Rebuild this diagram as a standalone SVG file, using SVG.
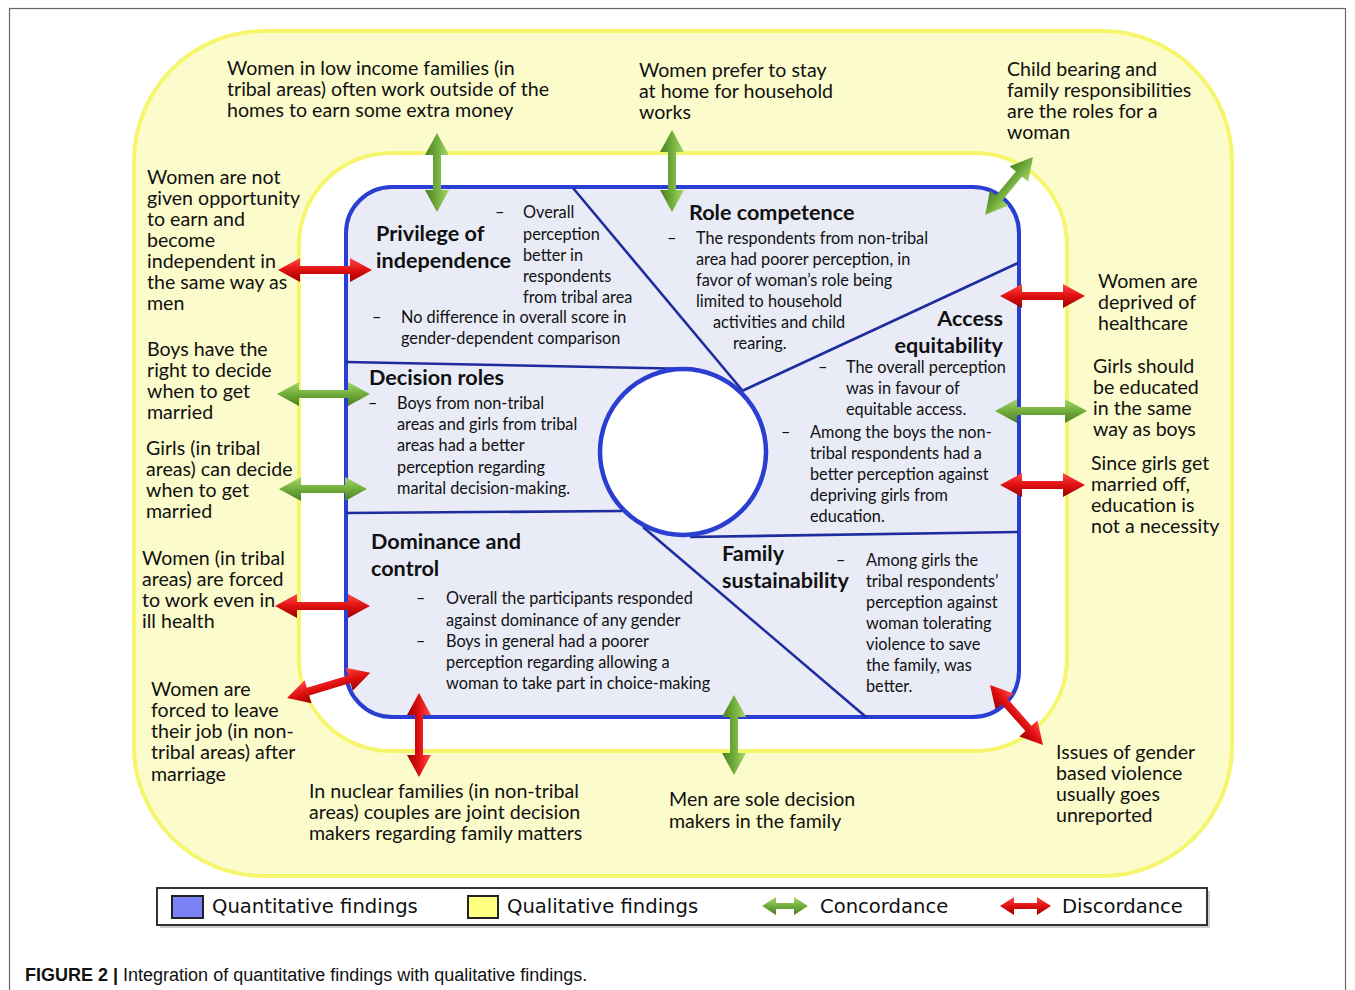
<svg xmlns="http://www.w3.org/2000/svg" width="1355" height="990" viewBox="0 0 1355 990">
<defs>
<linearGradient id="gG" x1="0" y1="0" x2="0" y2="1">
<stop offset="0" stop-color="#a6d86a"/><stop offset="0.5" stop-color="#72ad3c"/><stop offset="1" stop-color="#4a7d22"/>
</linearGradient>
<linearGradient id="gR" x1="0" y1="0" x2="0" y2="1">
<stop offset="0" stop-color="#ff4a4a"/><stop offset="0.5" stop-color="#e01010"/><stop offset="1" stop-color="#9a0000"/>
</linearGradient>
<style>
.t{font-family:Lato,"Open Sans",sans-serif;font-size:19.6px;fill:#111}
.b{font-family:Lato,"Open Sans",sans-serif;font-size:16.3px;fill:#111}
.h{font-family:Lato,"Open Sans",sans-serif;font-size:21.6px;font-weight:bold;fill:#111}
.lg{font-family:"DejaVu Sans",Verdana,sans-serif;font-size:19.6px;fill:#111}
.sep{stroke:#1f2c9e;stroke-width:2.6;fill:none}
.ga{fill:url(#gG)}
.ra{fill:url(#gR)}
</style>
</defs>
<rect x="9.5" y="8.5" width="1336" height="1000" fill="#fff" stroke="#666" stroke-width="1.2"/>
<g id="qualitative-frame">
<rect x="134" y="31" width="1098" height="845" rx="130" ry="130" fill="#fbfbcb" stroke="#f6f66e" stroke-width="4"/>
<rect x="299" y="153" width="768" height="598" rx="92" ry="92" fill="#fff" stroke="#f6f66e" stroke-width="4"/>
</g>
<g id="quantitative-box">
<rect x="346" y="187" width="673" height="530" rx="46" ry="46" fill="#e9ebf7" stroke="#2b3ed2" stroke-width="4"/>
</g>
<g id="separators">
<line class="sep" x1="573" y1="188" x2="742" y2="390"/>
<line class="sep" x1="346" y1="362" x2="695" y2="369"/>
<line class="sep" x1="742" y1="391" x2="1018" y2="263"/>
<line class="sep" x1="346" y1="513" x2="622" y2="511"/>
<line class="sep" x1="690" y1="537" x2="1018" y2="532"/>
<line class="sep" x1="643" y1="527" x2="866" y2="717"/>
</g>
<g id="center-circle">
<circle cx="683" cy="452" r="83" fill="#fff" stroke="#2b3ed2" stroke-width="4.5"/>
</g>
<g id="privilege-of-independence">
<text class="h"><tspan x="376" y="241">Privilege of</tspan><tspan x="376" y="268">independence</tspan></text>
<text class="b"><tspan x="495" y="218">–</tspan><tspan x="523" y="218">Overall</tspan><tspan x="523" y="240">perception</tspan><tspan x="523" y="261">better in</tspan><tspan x="523" y="282">respondents</tspan><tspan x="523" y="303">from tribal area</tspan></text>
<text class="b"><tspan x="372" y="323">–</tspan><tspan x="401" y="323">No difference in overall score in</tspan><tspan x="401" y="344">gender-dependent comparison</tspan></text>
</g>
<g id="role-competence">
<text class="h" x="689" y="220">Role competence</text>
<text class="b"><tspan x="667" y="244">–</tspan><tspan x="696" y="244">The respondents from non-tribal</tspan><tspan x="696" y="265">area had poorer perception, in</tspan><tspan x="696" y="286">favor of woman’s role being</tspan><tspan x="696" y="307">limited to household</tspan><tspan x="713" y="328">activities and child</tspan><tspan x="733" y="349">rearing.</tspan></text>
</g>
<g id="access-equitability">
<text class="h" text-anchor="end"><tspan x="1003" y="326">Access</tspan><tspan x="1003" y="353">equitability</tspan></text>
<text class="b"><tspan x="818" y="373">–</tspan><tspan x="846" y="373">The overall perception</tspan><tspan x="846" y="394">was in favour of</tspan><tspan x="846" y="415">equitable access.</tspan></text>
<text class="b"><tspan x="781" y="438">–</tspan><tspan x="810" y="438">Among the boys the non-</tspan><tspan x="810" y="459">tribal respondents had a</tspan><tspan x="810" y="480">better perception against</tspan><tspan x="810" y="501">depriving girls from</tspan><tspan x="810" y="522">education.</tspan></text>
</g>
<g id="decision-roles">
<text class="h" x="369" y="385">Decision roles</text>
<text class="b"><tspan x="368" y="409">–</tspan><tspan x="397" y="409">Boys from non-tribal</tspan><tspan x="397" y="430">areas and girls from tribal</tspan><tspan x="397" y="451">areas had a better</tspan><tspan x="397" y="473">perception regarding</tspan><tspan x="397" y="494">marital decision-making.</tspan></text>
</g>
<g id="dominance-and-control">
<text class="h"><tspan x="371" y="549">Dominance and</tspan><tspan x="371" y="576">control</tspan></text>
<text class="b"><tspan x="416" y="604">–</tspan><tspan x="446" y="604">Overall the participants responded</tspan><tspan x="446" y="626">against dominance of any gender</tspan><tspan x="416" y="647">–</tspan><tspan x="446" y="647">Boys in general had a poorer</tspan><tspan x="446" y="668">perception regarding allowing a</tspan><tspan x="446" y="689">woman to take part in choice-making</tspan></text>
</g>
<g id="family-sustainability">
<text class="h"><tspan x="722" y="561">Family</tspan><tspan x="722" y="588">sustainability</tspan></text>
<text class="b"><tspan x="836" y="566">–</tspan><tspan x="866" y="566">Among girls the</tspan><tspan x="866" y="587">tribal respondents’</tspan><tspan x="866" y="608">perception against</tspan><tspan x="866" y="629">woman tolerating</tspan><tspan x="866" y="650">violence to save</tspan><tspan x="866" y="671">the family, was</tspan><tspan x="866" y="692">better.</tspan></text>
</g>
<g id="q-low-income">
<text class="t"><tspan x="227" y="75">Women in low income families (in</tspan><tspan x="227" y="96">tribal areas) often work outside of the</tspan><tspan x="227" y="117">homes to earn some extra money</tspan></text>
</g>
<g id="q-stay-home">
<text class="t"><tspan x="639" y="77">Women prefer to stay</tspan><tspan x="639" y="98">at home for household</tspan><tspan x="639" y="119">works</tspan></text>
</g>
<g id="q-child-bearing">
<text class="t"><tspan x="1007" y="76">Child bearing and</tspan><tspan x="1007" y="97">family responsibilities</tspan><tspan x="1007" y="118">are the roles for a</tspan><tspan x="1007" y="139">woman</tspan></text>
</g>
<g id="q-not-given-opportunity">
<text class="t"><tspan x="147" y="184">Women are not</tspan><tspan x="147" y="205">given opportunity</tspan><tspan x="147" y="226">to earn and</tspan><tspan x="147" y="247">become</tspan><tspan x="147" y="268">independent in</tspan><tspan x="147" y="289">the same way as</tspan><tspan x="147" y="310">men</tspan></text>
</g>
<g id="q-healthcare">
<text class="t"><tspan x="1098" y="288">Women are</tspan><tspan x="1098" y="309">deprived of</tspan><tspan x="1098" y="330">healthcare</tspan></text>
</g>
<g id="q-boys-decide">
<text class="t"><tspan x="147" y="356">Boys have the</tspan><tspan x="147" y="377">right to decide</tspan><tspan x="147" y="398">when to get</tspan><tspan x="147" y="419">married</tspan></text>
</g>
<g id="q-girls-educated">
<text class="t"><tspan x="1093" y="373">Girls should</tspan><tspan x="1093" y="394">be educated</tspan><tspan x="1093" y="415">in the same</tspan><tspan x="1093" y="436">way as boys</tspan></text>
</g>
<g id="q-girls-decide">
<text class="t"><tspan x="146" y="455">Girls (in tribal</tspan><tspan x="146" y="476">areas) can decide</tspan><tspan x="146" y="497">when to get</tspan><tspan x="146" y="518">married</tspan></text>
</g>
<g id="q-married-off">
<text class="t"><tspan x="1091" y="470">Since girls get</tspan><tspan x="1091" y="491">married off,</tspan><tspan x="1091" y="512">education is</tspan><tspan x="1091" y="533">not a necessity</tspan></text>
</g>
<g id="q-forced-work">
<text class="t"><tspan x="142" y="565">Women (in tribal</tspan><tspan x="142" y="586">areas) are forced</tspan><tspan x="142" y="607">to work even in</tspan><tspan x="142" y="628">ill health</tspan></text>
</g>
<g id="q-leave-job">
<text class="t"><tspan x="151" y="696">Women are</tspan><tspan x="151" y="717">forced to leave</tspan><tspan x="151" y="738">their job (in non-</tspan><tspan x="151" y="759">tribal areas) after</tspan><tspan x="151" y="781">marriage</tspan></text>
</g>
<g id="q-nuclear-families">
<text class="t"><tspan x="309" y="798">In nuclear families (in non-tribal</tspan><tspan x="309" y="819">areas) couples are joint decision</tspan><tspan x="309" y="840">makers regarding family matters</tspan></text>
</g>
<g id="q-men-sole">
<text class="t"><tspan x="669" y="806">Men are sole decision</tspan><tspan x="669" y="828">makers in the family</tspan></text>
</g>
<g id="q-gender-violence">
<text class="t"><tspan x="1056" y="759">Issues of gender</tspan><tspan x="1056" y="780">based violence</tspan><tspan x="1056" y="801">usually goes</tspan><tspan x="1056" y="822">unreported</tspan></text>
</g>
<g id="connectors">
<path class="ga" transform="translate(437,133) rotate(90)" d="M0,0 L22,-12 L22,-4 L57,-4 L57,-12 L79,0 L57,12 L57,4 L22,4 L22,12 Z"/>
<path class="ga" transform="translate(672,130) rotate(90)" d="M0,0 L22,-12 L22,-4 L60,-4 L60,-12 L82,0 L60,12 L60,4 L22,4 L22,12 Z"/>
<path class="ga" transform="translate(1033,157) rotate(129.6)" d="M0,0 L22,-12 L22,-4 L53,-4 L53,-12 L75,0 L53,12 L53,4 L22,4 L22,12 Z"/>
<path class="ra" transform="translate(278,270)" d="M0,0 L22,-12 L22,-4 L72,-4 L72,-12 L94,0 L72,12 L72,4 L22,4 L22,12 Z"/>
<path class="ra" transform="translate(1000,296)" d="M0,0 L22,-12 L22,-4 L63,-4 L63,-12 L85,0 L63,12 L63,4 L22,4 L22,12 Z"/>
<path class="ga" transform="translate(277,394)" d="M0,0 L22,-12 L22,-4 L71,-4 L71,-12 L93,0 L71,12 L71,4 L22,4 L22,12 Z"/>
<path class="ga" transform="translate(995,411)" d="M0,0 L22,-12 L22,-4 L70,-4 L70,-12 L92,0 L70,12 L70,4 L22,4 L22,12 Z"/>
<path class="ga" transform="translate(279,489)" d="M0,0 L22,-12 L22,-4 L66,-4 L66,-12 L88,0 L66,12 L66,4 L22,4 L22,12 Z"/>
<path class="ra" transform="translate(1000,485)" d="M0,0 L22,-12 L22,-4 L63,-4 L63,-12 L85,0 L63,12 L63,4 L22,4 L22,12 Z"/>
<path class="ra" transform="translate(275,606)" d="M0,0 L22,-12 L22,-4 L73,-4 L73,-12 L95,0 L73,12 L73,4 L22,4 L22,12 Z"/>
<path class="ra" transform="translate(287,698) rotate(-16.8)" d="M0,0 L22,-12 L22,-4 L65,-4 L65,-12 L87,0 L65,12 L65,4 L22,4 L22,12 Z"/>
<path class="ra" transform="translate(419,693) rotate(90)" d="M0,0 L22,-12 L22,-4 L62,-4 L62,-12 L84,0 L62,12 L62,4 L22,4 L22,12 Z"/>
<path class="ga" transform="translate(734,695) rotate(90)" d="M0,0 L22,-12 L22,-4 L58,-4 L58,-12 L80,0 L58,12 L58,4 L22,4 L22,12 Z"/>
<path class="ra" transform="translate(990,685) rotate(48.5)" d="M0,0 L22,-12 L22,-4 L58,-4 L58,-12 L80,0 L58,12 L58,4 L22,4 L22,12 Z"/>
</g>
<g id="legend">
<rect x="160" y="891" width="1050" height="37" fill="#999" opacity="0.5"/>
<rect x="157" y="888" width="1050" height="37" fill="#fff" stroke="#333" stroke-width="2"/>
<rect x="172" y="896" width="31" height="22" fill="#7c82f6" stroke="#222" stroke-width="2"/>
<text class="lg" x="212" y="913">Quantitative findings</text>
<rect x="468" y="896" width="30" height="22" fill="#ffff80" stroke="#222" stroke-width="2"/>
<text class="lg" x="507" y="913">Qualitative findings</text>
<path class="ga" transform="translate(762,906)" d="M0,0 L14,-9 L14,-3 L32,-3 L32,-9 L46,0 L32,9 L32,3 L14,3 L14,9 Z"/>
<text class="lg" x="820" y="913">Concordance</text>
<path class="ra" transform="translate(1000,906)" d="M0,0 L14,-9 L14,-3 L37,-3 L37,-9 L51,0 L37,9 L37,3 L14,3 L14,9 Z"/>
<text class="lg" x="1062" y="913">Discordance</text>
</g>
<g id="caption">
<text font-family="Liberation Sans,Arial,sans-serif" font-size="18" fill="#111" x="25" y="981"><tspan font-weight="bold">FIGURE 2 |</tspan> Integration of quantitative findings with qualitative findings.</text>
</g>
</svg>
